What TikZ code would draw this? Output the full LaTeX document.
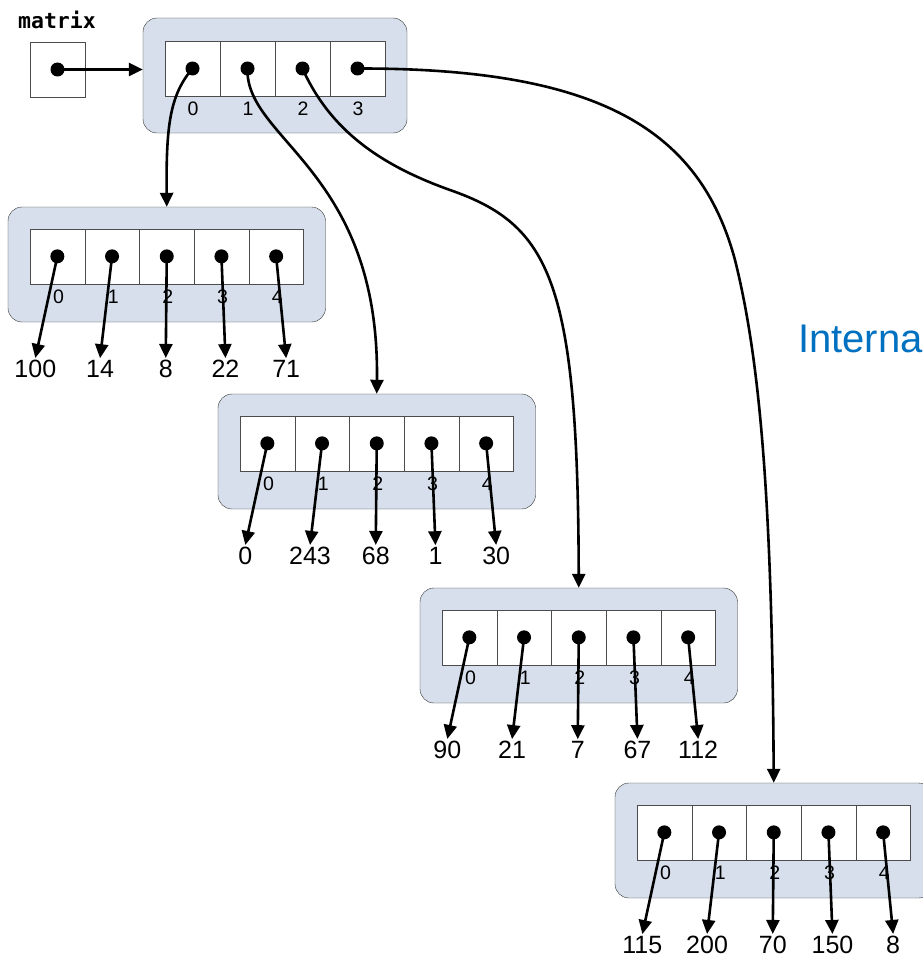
\documentclass[tikz,border=0pt]{standalone}
\usepackage{fontspec}
\setmainfont{Liberation Sans}
\newfontfamily\codefont{DejaVu Sans Mono}
\usepackage{tikz}
\usetikzlibrary{arrows.meta,calc}
\usepackage{xcolor}
\definecolor{boxfill}{RGB}{214,223,235}
\definecolor{noteblue}{RGB}{0,112,192}

\begin{document}
\begin{tikzpicture}[x=1pt, y=-1pt,
    cell/.style={draw=black!70, fill=white, minimum width=54.7pt, minimum height=55pt, inner sep=0pt, outer sep=0pt},
    arraybox/.style={draw=black!80, fill=boxfill, rounded corners=14pt, inner sep=0pt, minimum height=115pt, minimum width=#1},
    arraybox/.default={317.5pt},
    dot/.style={circle, fill=black, inner sep=0pt, minimum size=14pt},
    idx/.style={font=\fontsize{19.5}{22}\selectfont, inner sep=0pt},
    val/.style={font=\fontsize{25}{28}\selectfont, inner sep=2pt},
    ptr/.style={-{Triangle[length=14pt,width=13pt]}, line width=2.6pt},
]
\useasboundingbox (0,0) rectangle (923,958);

% ===== VARIABLE =====
\node[font=\codefont\bfseries\fontsize{21.5}{24}\selectfont] (matlbl) at (57,20) {matrix};
\node[cell] (matvar) at (57.5,69.5) {};
\node[dot] (matdot) at (matvar.center) {};

% ===== OUTER ARRAY =====
\node[arraybox=264pt] (topbox) at (275,75.5) {};
\foreach \i in {0,...,3} {
  \node[cell] (t\i) at (192.5+55*\i, 68.5) {};
  \node[dot] (td\i) at (t\i.center) {};
  \node[idx] (ti\i) at (193+55*\i, 109) {\i};
}

% ===== ROWS =====
\foreach \r/\x/\y/\vals in {0/30/229/{100,14,8,22,71}, 1/240/416/{0,243,68,1,30},
                             2/442/610/{90,21,7,67,112}, 3/637/805/{115,200,70,150,8}} {
  \node[arraybox] (box\r) at (\x+136.75, \y+35.5) {};
  \foreach \v [count=\i from 0] in \vals {
    \pgfmathsetmacro\off{{-22,-12,-1,4,10}[\i]}
    \node[cell] (c\r-\i) at (\x+27.35+54.7*\i, \y+27.35) {};
    \node[dot] (d\r-\i) at (c\r-\i.center) {};
    \node[idx] (i\r-\i) at (\x+28.5+54.7*\i, \y+68) {\i};
    \node[val] (v\r-\i) at (\x+27.35+54.7*\i+\off, \y+140) {\v};
    \draw[ptr] (d\r-\i.center) -- (v\r-\i.north);
  }
}

\node[font=\fontsize{40}{44}\selectfont, text=noteblue, anchor=base west, inner sep=0pt] (note) at (798,352) {Interna};

% ===== ARROWS =====
\coordinate (bend2) at (450,190);
\coordinate (bend3) at (735,260);
\draw[ptr] (matdot.center) -- (matdot -| topbox.west);
\draw[ptr] (td0.center) .. controls (170,95) and (166,125) .. (box0.north);
\draw[ptr] (td1.center) .. controls (245,140) and (380,170) .. (box1.north);
\draw[ptr] (td2.center) .. controls (330,130) and (380,165) .. (bend2) .. controls (550,225) and (578,280) .. (box2.north);
\draw[ptr] (td3.center) .. controls (600,68) and (700,130) .. (bend3) .. controls (760,360) and (772,500) .. (box3.north);

\end{tikzpicture}
\end{document}
